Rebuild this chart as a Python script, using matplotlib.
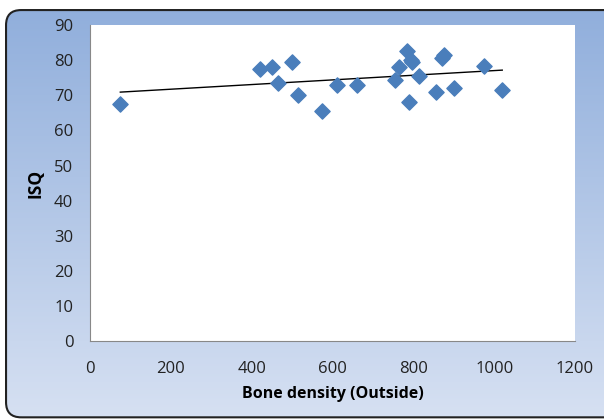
import numpy as np
import matplotlib.pyplot as plt
from matplotlib.patches import FancyBboxPatch

# Datos
bone_density = [75, 420, 450, 465, 500, 515, 575, 610, 660,
                755, 765, 785, 795, 797, 790, 815, 855, 875, 870, 900, 975, 1020]
isq = [67.5, 77.5, 78, 73.5, 79.5, 70, 65.5, 73, 73,
       74.5, 78, 82.5, 80, 79.5, 68, 75.5, 71, 81.5, 80.5, 72, 78.5, 71.5]

x_ticks = [0, 200, 400, 600, 800, 1000, 1200]
y_ticks = [0, 10, 20, 30, 40, 50, 60, 70, 80, 90]

plt.rcParams['font.family'] = ['Open Sans', 'DejaVu Sans']

fig = plt.figure(figsize=(6.04, 4.19), dpi=100)

# Fondo con degradado y borde redondeado
bg = fig.add_axes([0, 0, 1, 1], zorder=-10)
bg.set_xlim(0, 1)
bg.set_ylim(0, 1)
bg.axis('off')
grad = np.linspace(0, 1, 256).reshape(-1, 1)
top = np.array([0.56, 0.68, 0.86])
bottom = np.array([0.84, 0.88, 0.95])
img = bottom + (top - bottom) * grad
img = img[:, None, :].repeat(2, axis=1)
box = FancyBboxPatch((0.010, 0.004), 1.1, 0.972,
                     boxstyle="round,pad=0,rounding_size=0.025",
                     transform=bg.transAxes, facecolor='none',
                     edgecolor='#222222', linewidth=1.5, mutation_aspect=1.44)
im = bg.imshow(img, extent=[0, 1, 0, 1], origin='lower', aspect='auto')
bg.add_patch(box)
im.set_clip_path(box)

ax = fig.add_axes([0.149, 0.186, 0.803, 0.754])
ax.set_facecolor('white')
ax.scatter(bone_density, isq, marker='D', s=60, color='#4A7EBB',
           edgecolors='#4A7EBB', zorder=3)

# Linea de tendencia lineal
coef = np.polyfit(bone_density, isq, 1)
xs = np.array([min(bone_density), max(bone_density)])
ax.plot(xs, np.polyval(coef, xs), color='black', linewidth=1, zorder=2)

ax.set_xlim(0, 1200)
ax.set_ylim(0, 90)
ax.set_xticks(x_ticks)
ax.set_yticks(y_ticks)
ax.tick_params(length=0, labelsize=12, colors='#222222')
ax.tick_params(axis='x', pad=14)
ax.tick_params(axis='y', pad=12)
for s in ['top', 'right']:
    ax.spines[s].set_visible(False)
for s in ['left', 'bottom']:
    ax.spines[s].set_color('#888888')
ax.set_xlabel('Bone density (Outside)', fontsize=11.5, fontweight='bold', labelpad=7)
ax.set_ylabel('ISQ', fontsize=12.5, fontweight='bold', labelpad=7)

fig.savefig('out.png', dpi=100)
